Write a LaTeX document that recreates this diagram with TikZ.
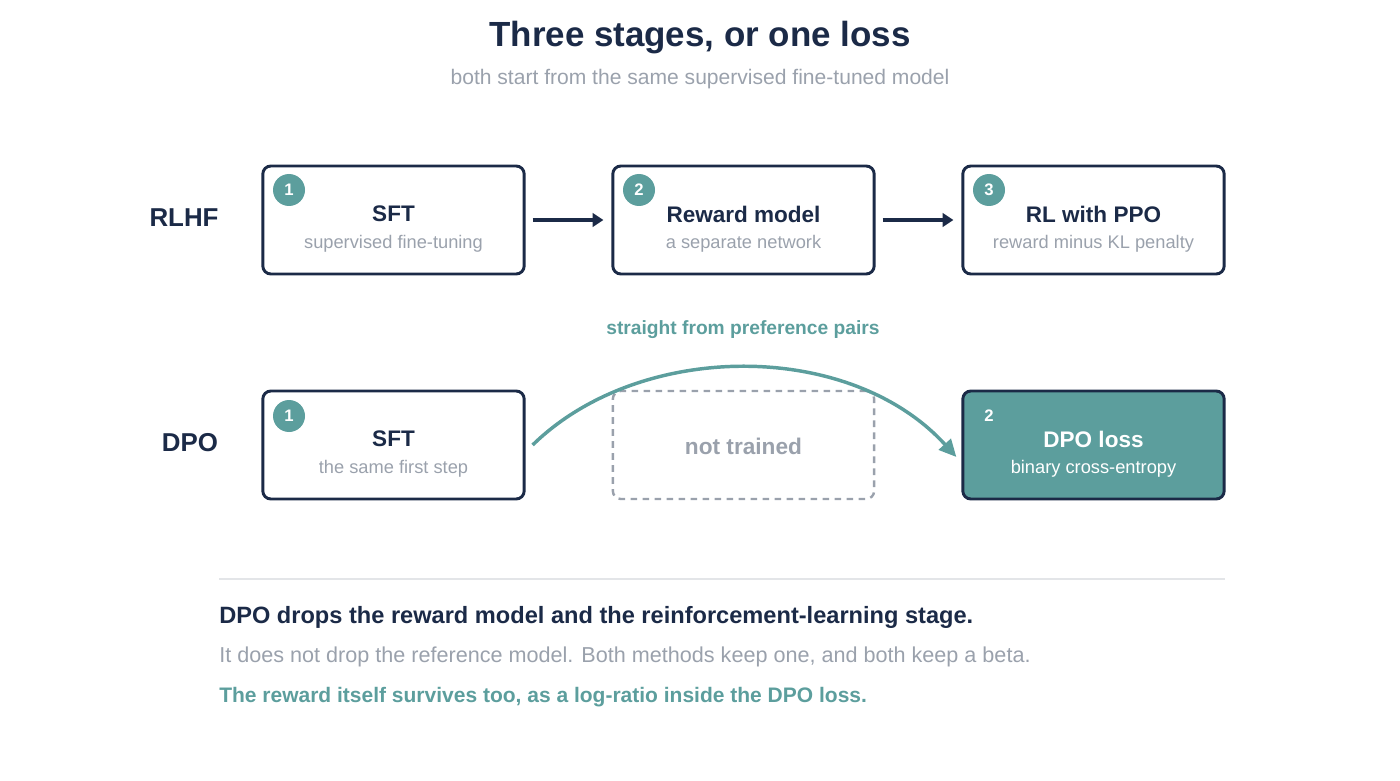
\documentclass[tikz,border=0pt]{standalone}
\usepackage{fontspec}
\setmainfont{Liberation Sans}
\usetikzlibrary{positioning,calc,arrows.meta}
\definecolor{navy}{HTML}{1B2A47}
\definecolor{teal}{HTML}{5C9E9D}
\definecolor{greytext}{HTML}{9AA1AC}
\definecolor{rule}{HTML}{E3E5E8}
\tikzset{
  stage/.style={draw=navy, line width=2.2pt, rounded corners=6pt, minimum width=196pt, minimum height=81pt},
  skipped/.style={draw=greytext, line width=1.8pt, dash pattern=on 5pt off 4pt, rounded corners=6pt, minimum width=196pt, minimum height=81pt},
  badge/.style={circle, fill=teal, text=white, minimum size=24pt, inner sep=0pt, font=\bfseries\fontsize{12.5}{12}\selectfont},
  stagetitle/.style={text=navy, font=\bfseries\fontsize{16.9}{17}\selectfont},
  stagesub/.style={text=greytext, font=\fontsize{13.7}{14}\selectfont},
  rowlabel/.style={text=navy, font=\bfseries\fontsize{19.4}{19}\selectfont},
  flow/.style={navy, line width=2.8pt, -{Triangle[length=8pt,width=10pt]}},
  note/.style={anchor=west, inner sep=0pt},
}
\begin{document}
\begin{tikzpicture}[x=0.75pt,y=-0.75pt]
\useasboundingbox (0,0) rectangle (1400,781);

\node[text=navy, font=\bfseries\fontsize{26.2}{27}\selectfont] (title) at (700,38) {Three stages, or one loss};
\node[text=greytext, font=\fontsize{15.8}{16}\selectfont] (subtitle) at (700,79) {both start from the same supervised fine-tuned model};

\node[rowlabel] (rlhf) at (184,218) {RLHF};
\node[rowlabel] (dpo) at (190,443) {DPO};

%% RLHF row
\node[stage] (sft) at (393.5,220) {};
\node[stage] (reward) at (743.5,220) {};
\node[stage] (ppo) at (1093.5,220) {};
\node[badge] at (289,190) {1};
\node[badge] at (639,190) {2};
\node[badge] at (989,190) {3};
\node[stagetitle] at (393.5,214) {SFT};
\node[stagesub] at (393.5,244) {supervised fine-tuning};
\node[stagetitle] at (743.5,214) {Reward model};
\node[stagesub] at (743.5,244) {a separate network};
\node[stagetitle] at (1093.5,214) {RL with PPO};
\node[stagesub] at (1093.5,244) {reward minus KL penalty};
\draw[flow] ($(sft.east)+(7,0)$) -- ($(reward.west)+(-8,0)$);
\draw[flow] ($(reward.east)+(7,0)$) -- ($(ppo.west)+(-8,0)$);

%% DPO row
\node[stage] (sftb) at (393.5,445) {};
\node[skipped] (gap) at (743.5,445) {};
\node[stage, fill=teal] (loss) at (1093.5,445) {};
\node[badge] at (289,416) {1};
\node[text=white, font=\bfseries\fontsize{12.5}{12}\selectfont] at (989,416) {2};
\node[stagetitle] at (393.5,439) {SFT};
\node[stagesub] at (393.5,469) {the same first step};
\node[text=greytext, font=\bfseries\fontsize{17}{17}\selectfont] at (743.5,446) {not trained};
\node[stagetitle, text=white] at (1093.5,439) {DPO loss};
\node[stagesub, text=white] at (1093.5,469) {binary cross-entropy};
\node[text=teal, font=\bfseries\fontsize{14.4}{15}\selectfont] (pairs) at (743,330) {straight from preference pairs};
\draw[teal, line width=2.6pt, -{Triangle[length=13pt,width=12pt]}] ($(sftb.east)+(7,0)$) .. controls (640,340) and (850,340) .. ($(loss.west)+(-5,12)$);

%% takeaway
\draw[rule, line width=1.2pt] (219,579) -- (1225,579);
\node[note, text=navy, font=\bfseries\fontsize{17.7}{18}\selectfont] at (219,617) {DPO drops the reward model and the reinforcement-learning stage.};
\node[note, text=greytext, font=\fontsize{16.2}{17}\selectfont] at (219,657) {It does not drop the reference model. Both methods keep one, and both keep a beta.};
\node[note, text=teal, font=\bfseries\fontsize{15.75}{16}\selectfont] at (219,697) {The reward itself survives too, as a log-ratio inside the DPO loss.};
\end{tikzpicture}
\end{document}
